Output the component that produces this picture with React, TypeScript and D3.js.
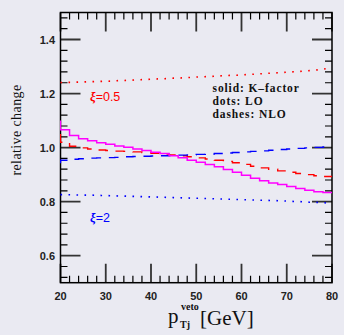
import React from "react";
import * as d3 from "d3";

// bin lower edges (GeV), 2 GeV wide bins
const binStarts = [20, 22, 24, 26, 28, 30, 32, 34, 36, 38, 40, 42, 44, 46, 48, 50, 52, 54, 56, 58, 60, 62, 64, 66, 68, 70, 72, 74, 76, 78];
const binEnd = 80;

// solid: K-factor (magenta)
const kStart = 1.10;
const kFactor = [1.066, 1.045, 1.033, 1.025, 1.018, 1.012, 1.006, 1.001, 0.995, 0.989, 0.983, 0.978, 0.970, 0.962, 0.953, 0.946, 0.937, 0.929, 0.919, 0.909, 0.898, 0.887, 0.877, 0.869, 0.863, 0.856, 0.849, 0.842, 0.837, 0.834];

// dashes: NLO
const nloStartHalf = 1.05;
const nloHalf = [1.020, 1.005, 0.999, 0.995, 0.991, 0.989, 0.987, 0.986, 0.984, 0.982, 0.979, 0.976, 0.973, 0.970, 0.966, 0.962, 0.958, 0.953, 0.949, 0.944, 0.938, 0.931, 0.925, 0.920, 0.914, 0.909, 0.904, 0.900, 0.896, 0.893];
const nloStartTwo = 0.942;
const nloTwo = [0.953, 0.957, 0.959, 0.961, 0.962, 0.963, 0.964, 0.966, 0.967, 0.968, 0.969, 0.970, 0.971, 0.972, 0.973, 0.975, 0.976, 0.978, 0.980, 0.982, 0.984, 0.986, 0.988, 0.990, 0.993, 0.995, 0.997, 0.999, 1.001, 1.002];

// dots: LO
const loHalf = [1.241, 1.242, 1.243, 1.244, 1.245, 1.246, 1.248, 1.249, 1.251, 1.252, 1.254, 1.255, 1.257, 1.258, 1.260, 1.262, 1.263, 1.265, 1.267, 1.268, 1.270, 1.272, 1.274, 1.276, 1.278, 1.280, 1.282, 1.285, 1.288, 1.293];
const loTwo = [0.826, 0.825, 0.824, 0.824, 0.823, 0.822, 0.821, 0.820, 0.819, 0.818, 0.817, 0.816, 0.815, 0.814, 0.813, 0.812, 0.811, 0.810, 0.809, 0.808, 0.807, 0.806, 0.805, 0.804, 0.803, 0.801, 0.800, 0.798, 0.797, 0.795];

const xTicks = [20, 30, 40, 50, 60, 70, 80];
const xMinor = [22, 24, 26, 28, 32, 34, 36, 38, 42, 44, 46, 48, 52, 54, 56, 58, 62, 64, 66, 68, 72, 74, 76, 78];
const yTicks = [0.6, 0.8, 1.0, 1.2, 1.4];
const yTickLabels = ["0.6", "0.8", "1.0", "1.2", "1.4"];
const yMinor = [0.52, 0.56, 0.64, 0.68, 0.72, 0.76, 0.84, 0.88, 0.92, 0.96, 1.04, 1.08, 1.12, 1.16, 1.24, 1.28, 1.32, 1.36, 1.44, 1.48];

const legendLines = ["solid: K–factor", "dots: LO", "dashes: NLO"];

const W = 344, H = 335;
const L = 60.5, R = 332, T = 12.5, B = 282.7;

export default function App() {
  const x = d3.scaleLinear().domain([20, 80]).range([L, R]);
  const y = d3.scaleLinear().domain([0.5, 1.5]).range([B, T]);

  const stepPts = (start: number | null, vals: number[]) => {
    const pts: [number, number][] = [];
    if (start !== null) pts.push([binStarts[0], start]);
    binStarts.forEach((b, i) => pts.push([b, vals[i]]));
    pts.push([binEnd, vals[vals.length - 1]]);
    return pts;
  };
  const stepLine = d3.line<[number, number]>().x(d => x(d[0])).y(d => y(d[1])).curve(d3.curveStepAfter);
  const loPath = (vals: number[]) => {
    const pts: [number, number][] = [[20, vals[0]]];
    vals.forEach((v, i) => pts.push([binStarts[i] + 1, v]));
    pts.push([80, vals[vals.length - 1]]);
    return d3.line<[number, number]>().x(d => x(d[0])).y(d => y(d[1]))(pts) || "";
  };

  // tick paths
  const major = d3.path();
  xTicks.forEach(t => {
    major.moveTo(x(t), B); major.lineTo(x(t), B - 19);
    major.moveTo(x(t), T); major.lineTo(x(t), T + 19);
  });
  yTicks.forEach(t => {
    major.moveTo(L, y(t)); major.lineTo(L + 20, y(t));
    major.moveTo(R, y(t)); major.lineTo(R - 20, y(t));
  });
  const minor = d3.path();
  xMinor.forEach(t => {
    minor.moveTo(x(t), B); minor.lineTo(x(t), B - 7);
    minor.moveTo(x(t), T); minor.lineTo(x(t), T + 7);
  });
  yMinor.forEach(t => {
    minor.moveTo(L, y(t)); minor.lineTo(L + 7, y(t));
    minor.moveTo(R, y(t)); minor.lineTo(R - 7, y(t));
  });

  const tickFont = "'Liberation Sans', Arial, sans-serif";
  const serif = "'Liberation Serif', 'Times New Roman', serif";

  return (
    <svg width={W} height={H} style={{ position: "absolute", left: 0, top: 0, background: "#eaeaf2" }}>
      <rect x={0} y={0} width={W} height={H} fill="#eaeaf2" />
      <defs>
        <clipPath id="plot">
          <rect x={L - 0.5} y={T} width={R - L + 1} height={B - T} />
        </clipPath>
      </defs>

      {/* ticks */}
      <path d={major.toString()} fill="none" stroke="#333" strokeWidth={1.8} />
      <path d={minor.toString()} fill="none" stroke="#000" strokeWidth={1.2} />
      <rect x={L} y={T} width={R - L} height={B - T} fill="none" stroke="#000" strokeWidth={1.5} />

      <g clipPath="url(#plot)" fill="none">
        <path d={loPath(loHalf)} stroke="#ff0000" strokeWidth={1.6} strokeDasharray="1.6 6.4" />
        <path d={loPath(loTwo)} stroke="#0000ff" strokeWidth={1.6} strokeDasharray="1.6 6.4" />
        <path d={stepLine(stepPts(nloStartHalf, nloHalf)) || ""} stroke="#ff0000" strokeWidth={1.4} strokeDasharray="10 8" />
        <path d={stepLine(stepPts(nloStartTwo, nloTwo)) || ""} stroke="#0000ff" strokeWidth={1.4} strokeDasharray="10 8" />
        <path d={stepLine(stepPts(kStart, kFactor)) || ""} stroke="#ff00ff" strokeWidth={1.5} />
      </g>

      {/* tick labels */}
      <g fontFamily={tickFont} fontSize={11} fontWeight="bold" fill="#222">
        {xTicks.map(t => (
          <text key={"xl" + t} x={x(t)} y={299.5} textAnchor="middle">{t}</text>
        ))}
        {yTicks.map((t, i) => (
          <text key={"yl" + t} x={55} y={y(t) + 4.5} textAnchor="end">{yTickLabels[i]}</text>
        ))}
      </g>

      {/* axis titles */}
      <text transform="translate(20.5,130) rotate(-90)" textAnchor="middle" fontFamily={serif} fontSize={14} fill="#111" letterSpacing={0.4}>relative change</text>
      <g fill="#111">
        <text x={168} y={323} fontFamily={serif} fontSize={21}>p</text>
        <text x={181} y={310} fontFamily={serif} fontSize={10} fontWeight="bold">veto</text>
        <text x={180} y={328} fontFamily={serif} fontSize={10} fontWeight="bold">Tj</text>
        <text x={200} y={325} fontFamily={serif} fontSize={21}>[GeV]</text>
      </g>

      {/* labels */}
      <text x={90} y={100.5} fontFamily={tickFont} fontSize={12.5} fill="#ff0000"><tspan fontFamily={serif} fontStyle="italic" fontWeight="bold">ξ</tspan>=0.5</text>
      <text x={90} y={221.5} fontFamily={tickFont} fontSize={12.5} fill="#0000ff"><tspan fontFamily={serif} fontStyle="italic" fontWeight="bold">ξ</tspan>=2</text>

      <g fontFamily={serif} fontSize={11.5} fontWeight="bold" fill="#111" letterSpacing={0.9}>
        {legendLines.map((s, i) => (
          <text key={s} x={212.5} y={91.5 + i * 13.3}>{s}</text>
        ))}
      </g>
    </svg>
  );
}
